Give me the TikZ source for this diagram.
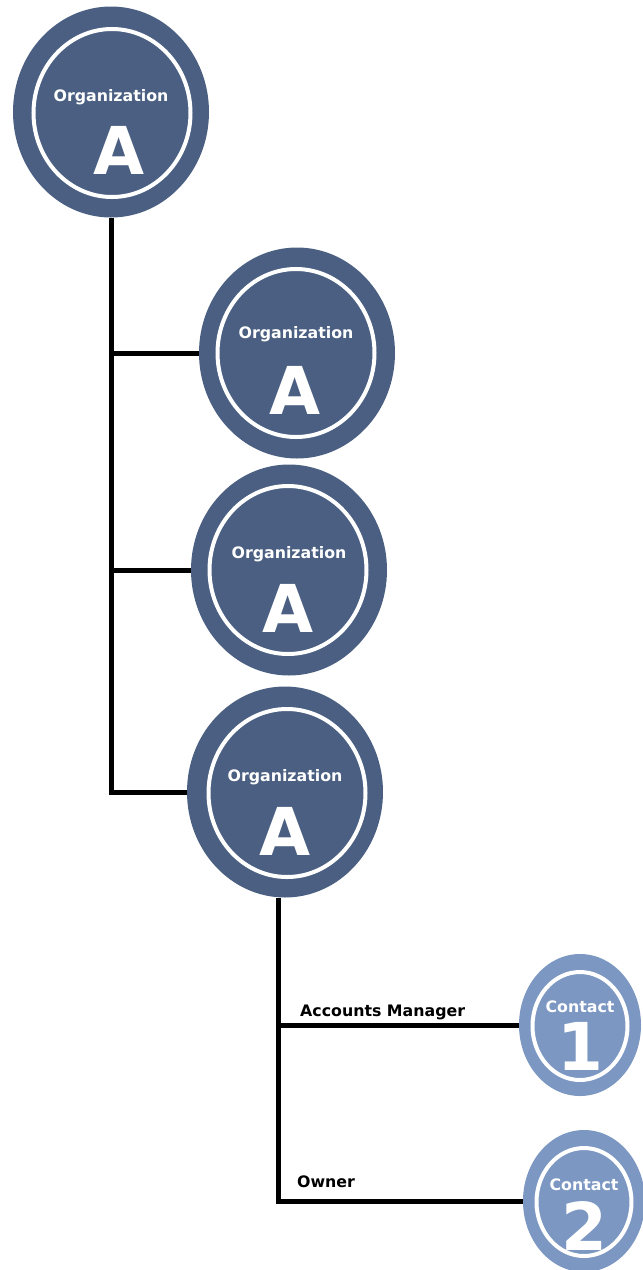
\documentclass[tikz,border=0pt]{standalone}
\usepackage{fontspec}
\setmainfont{DejaVu Sans}
\usetikzlibrary{shapes.geometric}
\definecolor{orgblue}{RGB}{74,95,129}
\definecolor{contactblue}{RGB}{123,151,194}
\tikzset{
	orgouter/.style={ellipse, fill=orgblue, minimum width=196pt, minimum height=211pt, inner sep=0pt},
	orginner/.style={ellipse, draw=white, line width=4pt, minimum width=157pt, minimum height=168pt, inner sep=0pt},
	contactouter/.style={ellipse, fill=contactblue, minimum width=122pt, minimum height=142pt, inner sep=0pt},
	contactinner/.style={ellipse, draw=white, line width=4pt, minimum width=95pt, minimum height=108pt, inner sep=0pt},
	smalltext/.style={text=white, font=\bfseries\fontsize{15.8}{18}\selectfont},
	bigletter/.style={text=white, font=\bfseries\fontsize{66}{66}\selectfont},
	bigdigit/.style={text=white, font=\bfseries\fontsize{66}{66}\selectfont},
	rolelabel/.style={anchor=west, font=\bfseries\fontsize{15.8}{18}\selectfont, inner sep=0pt},
	link/.style={line width=5pt}
}
\begin{document}
\begin{tikzpicture}[x=1pt, y=-1pt]
		%%%%% START %%%%%
		\useasboundingbox (0, 0) rectangle (643, 1270);
		
		\node[orgouter] (o1) at (111, 112) {};
		\node[orginner] (i1) at (112, 113) {};
		\node[smalltext] (o1name) at (111, 97) {Organization};
		\node[bigletter] (o1letter) at (119, 150) {A};
		
		\node[orgouter] (o2) at (297, 353) {};
		\node[orginner] (i2) at (296, 353) {};
		\node[smalltext] (o2name) at (296, 334) {Organization};
		\node[bigletter] (o2letter) at (295, 390) {A};
		
		\node[orgouter] (o3) at (289, 570) {};
		\node[orginner] (i3) at (288, 570) {};
		\node[smalltext] (o3name) at (289, 554) {Organization};
		\node[bigletter] (o3letter) at (288, 608) {A};
		
		\node[orgouter] (o4) at (285, 792) {};
		\node[orginner] (i4) at (287, 793) {};
		\node[smalltext] (o4name) at (285, 777) {Organization};
		\node[bigletter] (o4letter) at (285, 831) {A};
		
		\node[contactouter] (c1) at (580, 1025) {};
		\node[contactinner] (ci1) at (580, 1026) {};
		\node[smalltext] (c1name) at (580, 1007) {Contact};
		\node[bigdigit] (c1digit) at (580, 1046) {1};
		
		\node[contactouter] (c2) at (584, 1201) {};
		\node[contactinner] (ci2) at (584, 1202) {};
		\node[smalltext] (c2name) at (584, 1185) {Contact};
		\node[bigdigit] (c2digit) at (584, 1226) {2};
		
		% tree lines
		\draw[link] (o1.south) |- (o4.west);
		\draw[link] (o2.west) -- (o2.west -| o1.south);
		\draw[link] (o3.west) -- (o3.west -| o1.south);
		
		\coordinate (t2) at ([xshift=-7pt]o4.south);
		\draw[link] (t2) |- (c2.west);
		\draw[link] (c1.west) -- (c1.west -| t2);
		
		\node[rolelabel] (manager) at (300, 1012) {Accounts Manager};
		\node[rolelabel] (owner) at (297, 1182) {Owner};
		%%%%% END %%%%%
	\end{tikzpicture}
\end{document}
